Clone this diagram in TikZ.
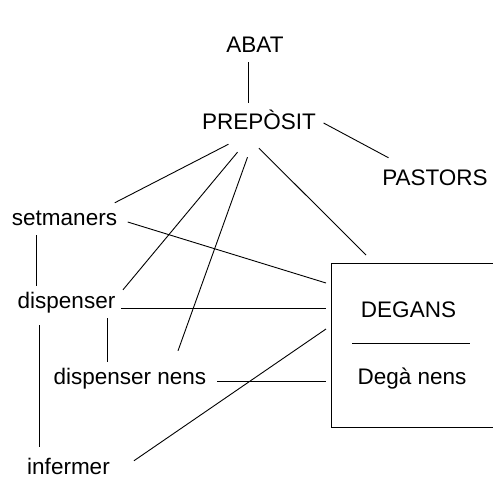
\documentclass[tikz,border=0pt]{standalone}
\usepackage{fontspec}
\setmainfont{Liberation Sans}
\usetikzlibrary{positioning}
\definecolor{inkblack}{RGB}{0,0,0}
\newcommand{\rolefont}{\fontsize{22.5}{27}\selectfont}
\tikzset{
  role/.style={font=\rolefont,text=inkblack,anchor=base,inner sep=5.5pt,
    text height=16.5pt,text depth=4.5pt},
  unit/.style={draw=inkblack,line width=0.9pt,outer sep=5pt,anchor=north west,
    minimum width=175pt,minimum height=164pt},
  link/.style={draw=inkblack,line width=0.9pt}
}

\begin{document}
\begin{tikzpicture}[x=1pt,y=-1pt]
  \useasboundingbox (0,0) rectangle (493,480);
  \clip (0,0) rectangle (493,480);

  \node[role] (abat) at (255,52) {ABAT};
  \node[role] (prep) at (259,129) {PREPÒSIT};
  \node[role] (pastors) at (435,185) {PASTORS};
  \node[role] (setm) at (64.5,225) {setmaners};
  \node[role] (disp) at (66.5,308) {dispenser};
  \node[role] (dnens) at (130,384) {dispenser nens};
  \node[role,text depth=0pt,inner sep=2pt] (inferm) at (68.5,474) {infermer};

  \node[unit] (degans) at (326,258) {};
  \node[role] (deg) at (408.5,317) {DEGANS};
  \node[role] (degnens) at (412,384) {Degà nens};
  \draw[link] (352,343) -- (470,343);

  \draw[link] ([xshift=-7pt]abat.south) -- ([xshift=-11pt,yshift=4pt]prep.north);
  \draw[link] ([xshift=2pt]prep.east) -- ([xshift=12pt,yshift=5pt]pastors.north west);
  \draw[link] ([xshift=-30.5pt,yshift=-5pt]prep.south) -- ([xshift=-8pt]setm.north east);
  \draw[link] ([xshift=-21.5pt,yshift=-13pt]prep.south) -- ([xshift=2pt,yshift=-4pt]disp.north east);
  \draw[link] ([xshift=-11.5pt,yshift=-18pt]prep.south) -- ([xshift=48pt,yshift=11pt]dnens.north);
  \draw[link] ([yshift=-9pt]prep.south) -- ([xshift=40pt,yshift=3pt]degans.north west);

  \draw[link] ([xshift=5pt,yshift=-3pt]setm.east) -- ([yshift=-25pt]degans.north west);
  \draw[link] ([xshift=-28.5pt]setm.south) -- ([xshift=-28.5pt]setm.south |- disp.north);
  \draw[link] (disp.base east) -- (disp.base east -| degans.west);
  \draw[link] ([xshift=40.5pt]disp.south) -- ([xshift=40.5pt]disp.south |- dnens.north);
  \draw[link] ([xshift=-27.5pt,yshift=-7pt]disp.south) -- ([xshift=-29.5pt,yshift=8pt]inferm.north);
  \draw[link] ([xshift=5pt,yshift=3pt]dnens.base east) -- ([yshift=3pt]dnens.base east -| degans.west);
  \draw[link] ([xshift=22pt,yshift=5pt]inferm.east) -- ([yshift=16pt]degans.west);
\end{tikzpicture}
\end{document}
